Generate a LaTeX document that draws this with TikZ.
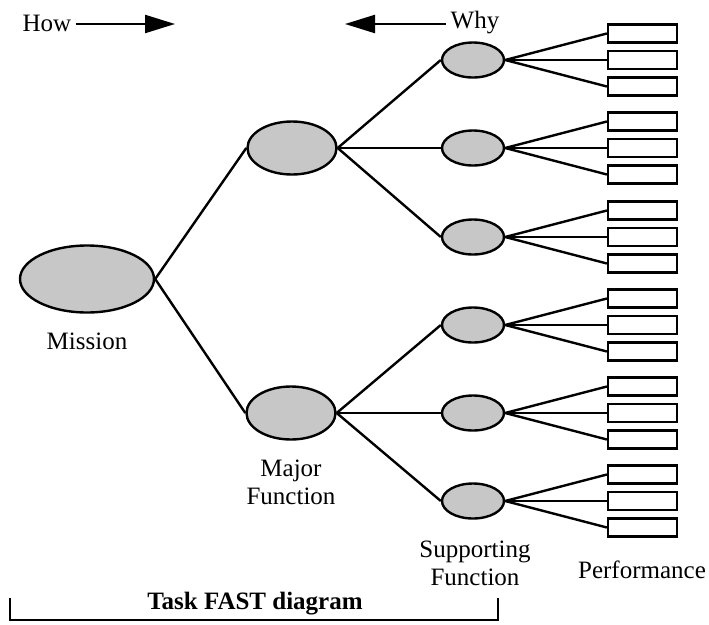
\documentclass[tikz,border=0pt]{standalone}
\usepackage{fontspec}
\setmainfont{Liberation Serif}
\usetikzlibrary{shapes.geometric,arrows.meta}
\begin{document}
\begin{tikzpicture}[x=1pt,y=1pt,
  lbl/.style={font=\fontsize{25}{30}\selectfont, inner sep=0pt, align=center},
  func/.style={ellipse, draw, line width=2.4pt, fill=black!22, inner sep=0pt},
  mis/.style={func, minimum width=134pt, minimum height=67pt},
  maj/.style={func, minimum width=89pt, minimum height=53pt},
  sup/.style={func, minimum width=62pt, minimum height=35pt},
  perf/.style={rectangle, draw, line width=2.2pt, fill=white, minimum width=69pt, minimum height=18pt, inner sep=0pt},
  conn/.style={line width=2.4pt},
  dirarrow/.style={line width=2.2pt, -{Triangle[length=30pt,width=18pt]}}
]
\useasboundingbox (0,0) rectangle (709,-624);

% Mission and major functions
\node[mis] (m) at (87,-279) {};
\node[lbl] (mlbl) at (87,-341) {Mission};
\node[maj] (a) at (292,-148) {};
\node[maj] (b) at (291,-413) {};
\node[lbl] (blbl) at (291,-482) {Major\\[-2pt]Function};

% Supporting functions
\foreach \i/\y in {1/60,2/148,3/237,4/325,5/413,6/501}{
  \node[sup] (s\i) at (473,-\y) {};
  \node[perf] (p\i a) at (642.5,-\y+26.5) {};
  \node[perf] (p\i b) at (642.5,-\y) {};
  \node[perf] (p\i c) at (642.5,-\y-26.5) {};
  \draw[conn] (s\i.east) -- (p\i a.west);
  \draw[conn] (s\i.east) -- (p\i b.west);
  \draw[conn] (s\i.east) -- (p\i c.west);
}

\draw[conn] (m.east) -- (a.west);
\draw[conn] (m.east) -- (b.west);
\foreach \i in {1,2,3}{\draw[conn] (a.east) -- (s\i.west);}
\foreach \i in {4,5,6}{\draw[conn] (b.east) -- (s\i.west);}

\node[lbl] (slbl) at (475,-563) {Supporting\\[-2pt]Function};
\node[lbl] (plbl) at (642,-570) {Performance};

% How / Why arrows
\node[lbl] (how) at (47,-23) {How};
\coordinate (howtip) at (175,-24);
\coordinate (howstart) at ([xshift=4pt,yshift=-1pt]how.east);
\draw[dirarrow] (howstart) -- (howtip);
\node[lbl] (why) at (475,-23) {Why};
\coordinate (whytip) at (345,-24);
\coordinate (whystart) at ([xshift=-5pt,yshift=-1pt]why.west);
\draw[dirarrow] (whystart) -- (whytip);

% Bracket
\coordinate (bla) at (10,-598);
\coordinate (blb) at (10,-620);
\coordinate (brb) at (498,-620);
\coordinate (bra) at (498,-598);
\draw[line width=1.8pt] (bla) -- (blb) -- (brb) -- (bra);
\node[lbl, font=\fontsize{25}{30}\selectfont\bfseries] (task) at (255,-604) {Task FAST diagram};
\end{tikzpicture}
\end{document}
